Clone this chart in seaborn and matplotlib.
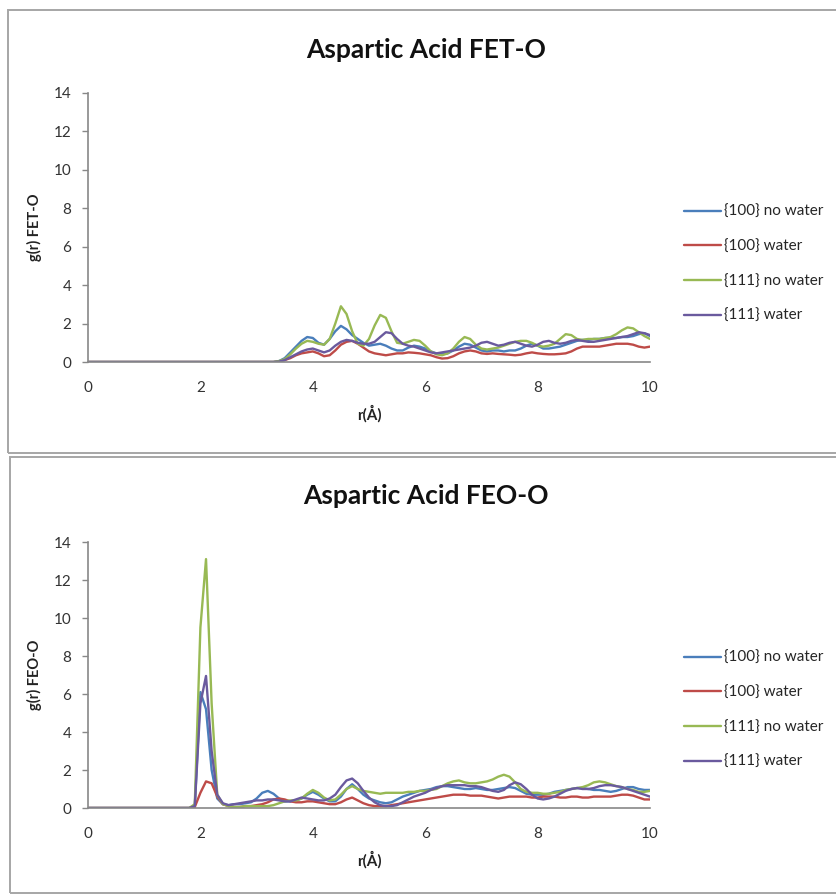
import numpy as np
import pandas as pd
import seaborn as sns
import matplotlib.pyplot as plt
from matplotlib.patches import Rectangle

sns.set_theme(style="white")
plt.rcParams['font.family'] = ['Lato', 'DejaVu Sans']

# ---------------- data ----------------
r = [round(0.1 * i, 1) for i in range(101)]
series = ["{100} no water", "{100} water", "{111} no water", "{111} water"]
colors = ["#4A7EBB", "#BE4B48", "#98B954", "#6A5A9E"]

z33 = [0.0] * 34  # r = 0.0 .. 3.3
fet_100_nowater = z33 + [0.05, 0.2, 0.5, 0.8, 1.1, 1.3, 1.25, 1.0, 0.9, 1.2, 1.6, 1.88, 1.7, 1.4, 1.2, 1.0, 0.85, 0.9, 0.95, 0.85,
                         0.7, 0.6, 0.6, 0.75, 0.85, 0.8, 0.7, 0.55, 0.45, 0.4, 0.45, 0.6, 0.8, 0.95, 0.9, 0.75, 0.6, 0.55, 0.6, 0.6,
                         0.55, 0.6, 0.6, 0.7, 0.85, 0.95, 0.85, 0.7, 0.7, 0.75, 0.8, 0.9, 1.0, 1.1, 1.15, 1.15, 1.2, 1.2, 1.25, 1.25,
                         1.25, 1.3, 1.3, 1.35, 1.45, 1.5, 1.35]
fet_100_water = z33 + [0.02, 0.1, 0.2, 0.35, 0.45, 0.5, 0.55, 0.45, 0.3, 0.35, 0.6, 0.9, 1.05, 1.1, 0.95, 0.75, 0.55, 0.45, 0.4, 0.35,
                       0.4, 0.45, 0.45, 0.5, 0.48, 0.45, 0.4, 0.35, 0.25, 0.18, 0.2, 0.3, 0.45, 0.55, 0.6, 0.55, 0.45, 0.42, 0.45, 0.42,
                       0.4, 0.38, 0.35, 0.38, 0.45, 0.5, 0.45, 0.42, 0.4, 0.4, 0.42, 0.45, 0.55, 0.7, 0.8, 0.8, 0.8, 0.8, 0.85, 0.9,
                       0.95, 0.95, 0.95, 0.9, 0.8, 0.75, 0.8]
fet_111_nowater = z33 + [0.05, 0.15, 0.4, 0.7, 0.95, 1.1, 1.05, 0.95, 0.9, 1.2, 2.0, 2.9, 2.5, 1.6, 0.95, 0.85, 1.2, 1.9, 2.45, 2.3,
                         1.6, 1.0, 0.95, 1.05, 1.15, 1.1, 0.85, 0.55, 0.4, 0.35, 0.45, 0.7, 1.05, 1.3, 1.2, 0.9, 0.7, 0.65, 0.7, 0.75,
                         0.85, 0.95, 1.05, 1.1, 1.1, 1.0, 0.85, 0.8, 0.85, 0.95, 1.2, 1.45, 1.4, 1.2, 1.15, 1.2, 1.2, 1.2, 1.25, 1.3,
                         1.45, 1.65, 1.8, 1.75, 1.55, 1.35, 1.2]
fet_111_water = z33 + [0.02, 0.1, 0.25, 0.4, 0.55, 0.65, 0.7, 0.6, 0.5, 0.6, 0.85, 1.05, 1.15, 1.1, 1.0, 0.95, 0.95, 1.05, 1.3, 1.55,
                       1.5, 1.2, 0.95, 0.85, 0.8, 0.7, 0.6, 0.5, 0.45, 0.5, 0.55, 0.6, 0.65, 0.7, 0.75, 0.85, 1.0, 1.05, 0.95, 0.85,
                       0.9, 1.0, 1.05, 0.95, 0.85, 0.8, 0.9, 1.05, 1.1, 1.0, 0.95, 1.0, 1.1, 1.15, 1.1, 1.05, 1.05, 1.1, 1.15, 1.2,
                       1.25, 1.3, 1.35, 1.45, 1.55, 1.5, 1.4]

z18 = [0.0] * 19  # r = 0.0 .. 1.8
feo_100_nowater = z18 + [0.1, 6.1, 5.2, 2.0, 0.5, 0.2, 0.15, 0.2, 0.2, 0.25, 0.3, 0.5, 0.8, 0.9, 0.75, 0.5, 0.35, 0.35, 0.4, 0.5,
                         0.7, 0.85, 0.7, 0.5, 0.35, 0.35, 0.6, 1.0, 1.25, 1.0, 0.7, 0.5, 0.4, 0.3, 0.25, 0.3, 0.45, 0.6, 0.7, 0.8,
                         0.9, 0.95, 1.0, 1.1, 1.15, 1.15, 1.1, 1.05, 1.0, 1.0, 1.05, 1.0, 0.95, 0.95, 1.0, 1.05, 1.1, 1.05, 0.9, 0.75,
                         0.7, 0.7, 0.7, 0.75, 0.85, 0.9, 0.95, 1.0, 1.05, 1.05, 1.0, 0.95, 0.95, 0.9, 0.85, 0.9, 1.0, 1.1, 1.1, 1.0,
                         0.95, 0.95]
feo_100_water = z18 + [0.05, 0.8, 1.4, 1.3, 0.6, 0.2, 0.1, 0.05, 0.05, 0.1, 0.1, 0.15, 0.2, 0.3, 0.45, 0.5, 0.45, 0.35, 0.3, 0.3,
                       0.35, 0.35, 0.3, 0.25, 0.2, 0.2, 0.3, 0.45, 0.55, 0.4, 0.25, 0.15, 0.1, 0.1, 0.1, 0.15, 0.2, 0.25, 0.3, 0.35,
                       0.4, 0.45, 0.5, 0.55, 0.6, 0.65, 0.7, 0.7, 0.7, 0.65, 0.65, 0.65, 0.6, 0.55, 0.5, 0.55, 0.6, 0.6, 0.6, 0.6,
                       0.55, 0.55, 0.6, 0.6, 0.6, 0.55, 0.55, 0.6, 0.6, 0.55, 0.55, 0.6, 0.6, 0.6, 0.6, 0.65, 0.7, 0.7, 0.65, 0.55,
                       0.45, 0.45]
feo_111_nowater = z18 + [0.2, 9.5, 13.1, 5.5, 0.7, 0.2, 0.1, 0.05, 0.05, 0.1, 0.1, 0.1, 0.1, 0.1, 0.15, 0.25, 0.35, 0.4, 0.4, 0.5,
                         0.75, 0.95, 0.8, 0.55, 0.4, 0.45, 0.7, 1.0, 1.15, 1.0, 0.9, 0.85, 0.8, 0.75, 0.8, 0.8, 0.8, 0.8, 0.85, 0.85,
                         0.9, 0.9, 0.95, 1.0, 1.15, 1.3, 1.4, 1.45, 1.35, 1.3, 1.3, 1.35, 1.4, 1.5, 1.65, 1.75, 1.65, 1.35, 1.0, 0.85,
                         0.8, 0.8, 0.75, 0.75, 0.8, 0.85, 0.95, 1.0, 1.05, 1.1, 1.2, 1.35, 1.4, 1.35, 1.25, 1.15, 1.1, 1.0, 0.95, 0.85,
                         0.85, 0.9]
feo_111_water = z18 + [0.1, 5.5, 6.95, 3.0, 0.7, 0.25, 0.15, 0.2, 0.25, 0.3, 0.35, 0.4, 0.4, 0.45, 0.45, 0.4, 0.35, 0.35, 0.45, 0.55,
                       0.5, 0.45, 0.4, 0.4, 0.5, 0.7, 1.1, 1.45, 1.55, 1.3, 0.9, 0.55, 0.3, 0.15, 0.1, 0.1, 0.15, 0.3, 0.45, 0.6,
                       0.7, 0.8, 0.95, 1.05, 1.15, 1.2, 1.2, 1.2, 1.2, 1.15, 1.15, 1.1, 1.0, 0.9, 0.85, 0.95, 1.2, 1.35, 1.25, 1.0,
                       0.7, 0.5, 0.45, 0.5, 0.6, 0.75, 0.9, 1.0, 1.05, 1.0, 1.0, 1.05, 1.15, 1.2, 1.2, 1.15, 1.1, 1.0, 0.9, 0.8,
                       0.7, 0.6]

panels = [
    ("Aspartic Acid FET-O", "g(r) FET-O", [fet_100_nowater, fet_100_water, fet_111_nowater, fet_111_water]),
    ("Aspartic Acid FEO-O", "g(r) FEO-O", [feo_100_nowater, feo_100_water, feo_111_nowater, feo_111_water]),
]

# ---------------- figure ----------------
W, H = 836, 896
fig = plt.figure(figsize=(W / 100, H / 100), dpi=100)

def fx(px):
    return px / W

def fy(py):
    return 1 - py / H

# panel frames (pixel coords: left, top, bottom)
frames = [(8, 10, 453), (10, 457, 893)]
for left, top, bot in frames:
    fig.add_artist(Rectangle((fx(left), fy(bot)), 1.2, fy(top) - fy(bot), transform=fig.transFigure,
                             fill=False, edgecolor="#A6A6A6", linewidth=1.4, zorder=0))

# axes positions (pixels): left, right, top, bottom
ax_px = [(88, 650, 93, 362), (88, 650, 542, 808)]
title_y = [50, 496]
legend_y = [264, 710]

for k, (title, ylab, vals) in enumerate(panels):
    l, rr, t, b = ax_px[k]
    ax = fig.add_axes([fx(l), fy(b), fx(rr) - fx(l), fy(t) - fy(b)])
    df = pd.DataFrame({"r": r * 4,
                       "g": sum(vals, []),
                       "series": sum([[s] * len(r) for s in series], [])})
    sns.lineplot(data=df, x="r", y="g", hue="series", hue_order=series, palette=colors,
                 estimator=None, linewidth=1.7, ax=ax, legend=False)
    ax.set_xlim(0, 10)
    ax.set_ylim(0, 14)
    ax.set_xticks([0, 2, 4, 6, 8, 10])
    ax.set_yticks([0, 2, 4, 6, 8, 10, 12, 14])
    ax.set_xlabel("r(Å)", fontsize=11, fontweight="bold", color="#222222", labelpad=7)
    ax.set_ylabel(ylab, fontsize=10.5, fontweight="bold", color="#222222", labelpad=8)
    ax.tick_params(axis="both", labelsize=11, colors="#333333")
    ax.tick_params(axis="x", length=0, pad=14)
    ax.tick_params(axis="y", length=4, width=1, color="#888888", direction="out", pad=8, left=True)
    for s in ["top", "right"]:
        ax.spines[s].set_visible(False)
    for s in ["left", "bottom"]:
        ax.spines[s].set_color("#888888")
        ax.spines[s].set_linewidth(1.2)
    fig.text(0.51, fy(title_y[k]), title, ha="center", va="center", fontsize=19, fontweight="bold", color="#111111")
    handles = ax.get_lines()[:4]
    fig.legend(handles, series, loc="center left", bbox_to_anchor=(fx(684), fy(legend_y[k])),
               bbox_transform=fig.transFigure, frameon=False, fontsize=11, handlelength=2.4,
               handletextpad=0.2, labelspacing=1.35, borderaxespad=0, borderpad=0)

fig.savefig("out.png", dpi=100)
